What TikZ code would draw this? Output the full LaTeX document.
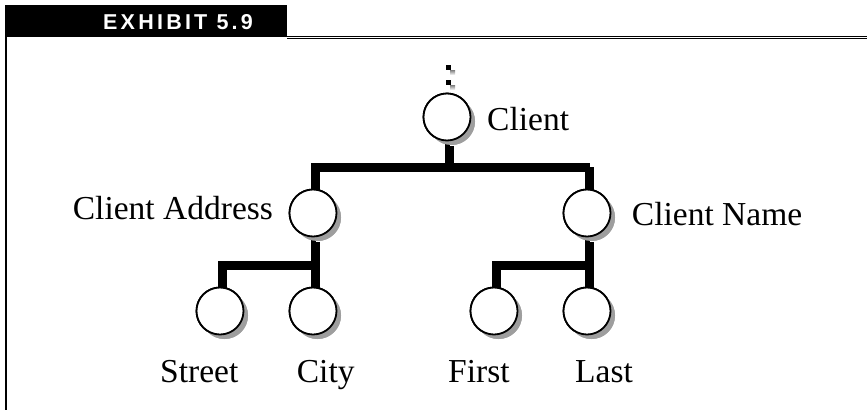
\documentclass[tikz,border=0pt]{standalone}
\usepackage{fontspec}
\setmainfont{Liberation Serif}
\newfontfamily\hdrfont[LetterSpace=15]{Liberation Sans}
\usetikzlibrary{shadows}
\colorlet{shade}{black!38}
\tikzset{
  ent/.style={circle, draw=black, line width=1.8pt, fill=white, minimum size=47pt, inner sep=0pt,
    drop shadow={shadow xshift=4.5pt, shadow yshift=-4.5pt, fill=shade, opacity=1}},
  lbl/.style={anchor=base west, inner sep=0pt, font=\fontsize{33.5}{36}\selectfont},
  bar/.style={line width=5pt, line join=miter},
}
\begin{document}
\begin{tikzpicture}[x=1pt,y=-1pt]
\useasboundingbox (0,0) rectangle (867,410);
% frame
\fill[black] (5,5) rectangle (287,36);
\node[anchor=base west, inner sep=0pt, text=white, font=\hdrfont\bfseries\fontsize{21.5}{23}\selectfont] (hdr) at (103,29.5) {EXHIBIT 5.9};
\draw[shade, line width=1pt] (287,38.3) -- (867,38.3);
\draw[black, line width=1.5pt] (6,36.5) -- (867,36.5);
\draw[black, line width=1.5pt] (6,36) -- (6,410);
% nodes
\coordinate (top) at (447,165);
\coordinate (lj) at (313,263);
\coordinate (rj) at (587,263);
\node[ent] (client) at (447,117) {};
\node[ent] (ca) at (313,213) {};
\node[ent] (cn) at (587,213) {};
\node[ent] (street) at (220,311) {};
\node[ent] (city) at (313,311) {};
\node[ent] (first) at (494,311) {};
\node[ent] (last) at (587,311) {};
% connector shadows
\begin{scope}[transform canvas={shift={(4.5pt,-4.5pt)}}, shade]
\draw[bar] (client.south) -- (top);
\draw[bar] (ca.north) |- (top) -| (cn.north);
\draw[bar] (ca.south) -- (city.north);
\draw[bar] (street.north) |- (lj);
\draw[bar] (cn.south) -- (last.north);
\draw[bar] (first.north) |- (rj);
\end{scope}
% connectors
\draw[bar] (client.south) -- (top);
\draw[bar] (ca.north) |- (top) -| (cn.north);
\draw[bar] (ca.south) -- (city.north);
\draw[bar] (street.north) |- (lj);
\draw[bar] (cn.south) -- (last.north);
\draw[bar] (first.north) |- (rj);
% redraw circles on top
\foreach \x/\y in {447/117, 313/213, 587/213, 220/311, 313/311, 494/311, 587/311}
  \node[ent] at (\x,\y) {};
% selection handles
\fill[shade] (450,70) rectangle (455,75);
\fill[shade] (450,85) rectangle (455,90);
\fill[black] (445.5,64.5) rectangle (450.5,69.5);
\fill[black] (445.5,79.5) rectangle (450.5,84.5);
% labels
\node[lbl] (lclient) at (487,130) {Client};
\node[lbl] (lca) at (72.7,219) {Client Address};
\node[lbl] (lcn) at (631.7,225) {Client Name};
\node[lbl] (lstreet) at (160,382.7) {Street};
\node[lbl] (lcity) at (296.7,382.7) {City};
\node[lbl] (lfirst) at (448,382.7) {First};
\node[lbl] (llast) at (575,382.7) {Last};
\end{tikzpicture}
\end{document}
